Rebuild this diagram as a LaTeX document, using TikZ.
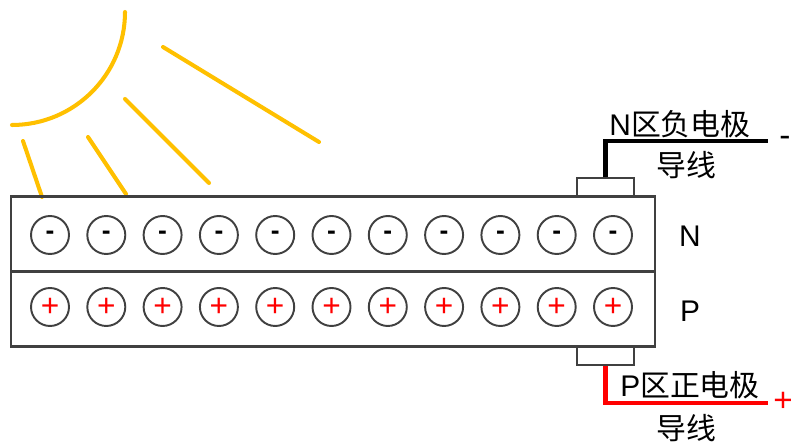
\documentclass[tikz,border=0pt]{standalone}
\usepackage{fontspec}
\setmainfont{Liberation Sans}
\newfontfamily\cjk{Noto Sans CJK SC}
\usetikzlibrary{positioning}
\definecolor{sunyellow}{RGB}{255,192,0}
\definecolor{edgegray}{RGB}{64,64,64}
\tikzset{
  zone/.style={draw=edgegray,line width=1.2pt,minimum width=12.88cm,minimum height=1.5cm,inner sep=0pt},
  tab/.style={draw=edgegray,line width=1.1pt,minimum width=1.14cm,minimum height=0.37cm,inner sep=0pt},
  carrier/.style={circle,draw=edgegray,line width=1.1pt,minimum size=0.76cm,inner sep=0pt},
  ray/.style={sunyellow,line width=2.3pt,line cap=round},
  lead/.style={line width=2.3pt},
  lbl/.style={font=\fontsize{17}{18}\selectfont,inner sep=0pt}
}
\begin{document}
\begin{tikzpicture}[x=0.02cm,y=-0.02cm]
  \useasboundingbox (0,0) rectangle (791,445);

  % sun and rays
  \draw[ray] (125,12) arc[start angle=0,end angle=90,radius=113];
  \draw[ray] (23,141) -- (42,197);
  \draw[ray] (88,137) -- (126,194);
  \draw[ray] (125,99) -- (209,183);
  \draw[ray] (163,47) -- (319,142);

  % the two layers
  \node[zone] (nzone) at (333,234) {};
  \node[zone] (pzone) at (333,309) {};
  \node[lbl] (nlab) at (690,236) {N};
  \node[lbl] (plab) at (690,311) {P};

  \foreach \i in {1,...,11} {
    \pgfmathparse{50+56.3*(\i-1)}
    \let\cx\pgfmathresult
    \node[carrier,font=\fontsize{15}{16}\selectfont\bfseries] (n\i) at (\cx,235) {-};
    \node[carrier,text=red,font=\fontsize{18}{18}\selectfont] (p\i) at (\cx,307) {+};
  }

  % electrodes and leads
  \node[tab] (ntab) at (605.5,187.5) {};
  \node[tab] (ptab) at (605.5,356) {};
  \coordinate (nend) at (768,141);
  \coordinate (pend) at (768,403);
  \draw[lead] (ntab.north) |- (nend);
  \draw[lead,red] (ptab.south) |- (pend);

  \node[lbl] (ntext) at (680,124) {N\cjk 区负电极};
  \node[lbl] (nwire) at (686,165) {\cjk 导线};
  \node[lbl,font=\fontsize{19}{18}\selectfont] (nsign) at (785,141) {-};
  \node[lbl] (ptext) at (690,385) {P\cjk 区正电极};
  \node[lbl] (pwire) at (686,428) {\cjk 导线};
  \node[lbl,text=red,font=\fontsize{19}{18}\selectfont] (psign) at (783,402) {+};
\end{tikzpicture}
\end{document}
